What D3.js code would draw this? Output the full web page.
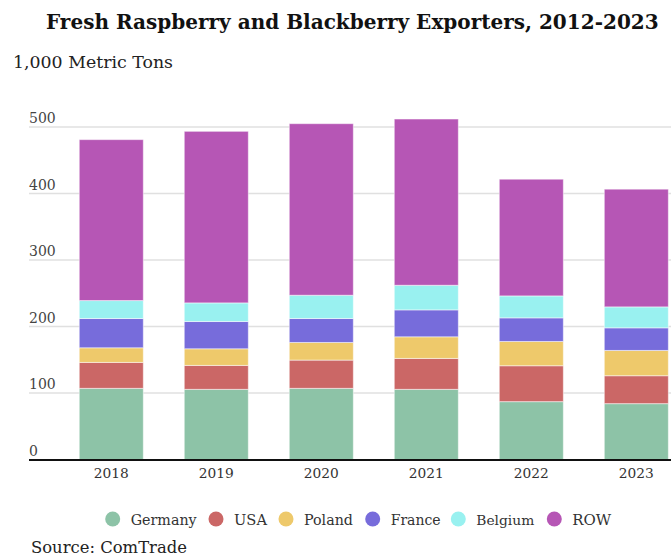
<!DOCTYPE html>
<html>
<head>
<meta charset="utf-8">
<script src="https://cdn.jsdelivr.net/npm/d3@7"></script>
<style>
  body { margin: 0; background: #fff; }
  text { font-family: "DejaVu Serif", "Liberation Serif", serif; }
</style>
</head>
<body>
<div id="chart"></div>
<script>
// values (1,000 metric tons)
var years = ["2018", "2019", "2020", "2021", "2022", "2023"];
var germany = [107, 105.5, 107, 105.5, 87, 84];
var usa = [39, 36, 42.5, 46.5, 54, 42];
var poland = [22, 25, 26.5, 32.5, 36.5, 38];
var france = [44, 41, 36, 40.5, 35.5, 34];
var belgium = [27, 28, 35, 37, 33, 31.5];
var row = [242, 258, 258, 250, 175.5, 177];

var seriesNames = ["Germany", "USA", "Poland", "France", "Belgium", "ROW"];
var seriesColors = ["#8dc3a7", "#cb6766", "#eec96b", "#776cdb", "#99f1f0", "#b656b5"];
var yTicks = [0, 100, 200, 300, 400, 500];

var width = 671, height = 556;

var svg = d3.select("#chart")
  .append("svg")
    .attr("width", width)
    .attr("height", height);

// build rows for the stack
var table = years.map(function(y, i) {
  return {year: y, Germany: germany[i], USA: usa[i], Poland: poland[i],
          France: france[i], Belgium: belgium[i], ROW: row[i]};
});
var stacked = d3.stack().keys(seriesNames)(table);

var x = d3.scaleBand()
  .domain(years)
  .range([38.3, 709.3])
  .paddingInner(0.39)
  .paddingOuter(0.39);

var y = d3.scaleLinear()
  .domain([0, 500])
  .range([459.5, 127]);

var color = d3.scaleOrdinal().domain(seriesNames).range(seriesColors);

// shrink or grow a label so it covers the width seen in the picture
function fit(sel, target) {
  sel.each(function() {
    var el = d3.select(this);
    var s = parseFloat(el.style("font-size"));
    var w = this.getComputedTextLength();
    el.style("font-size", (s * target / w).toFixed(2) + "px");
  });
}

// gridlines and tick labels
var grid = svg.append("g");
grid.selectAll("line")
  .data(yTicks.filter(function(d) { return d > 0; }))
  .enter()
  .append("line")
  .attr("x1", 29).attr("x2", width)
  .attr("y1", function(d) { return y(d); })
  .attr("y2", function(d) { return y(d); })
  .style("stroke", "#e0e0e0")
  .style("stroke-width", 1.5);

grid.selectAll("text")
  .data(yTicks)
  .enter()
  .append("text")
  .attr("x", 29)
  .attr("y", function(d) { return y(d) - 4; })
  .style("font-size", "14px")
  .style("fill", "#444")
  .text(function(d) { return d; });

// stacked bars
svg.append("g")
  .selectAll("g")
  .data(stacked)
  .enter()
  .append("g")
  .style("fill", function(d) { return color(d.key); })
  .selectAll("rect")
  .data(function(d) { return d; })
  .enter()
  .append("rect")
  .attr("x", function(d) { return x(d.data.year); })
  .attr("width", x.bandwidth())
  .attr("y", function(d) { return y(d[1]); })
  .attr("height", function(d) { return y(d[0]) - y(d[1]); })
  .style("stroke", "#fff")
  .style("stroke-opacity", 0.5)
  .style("stroke-width", 1);

// baseline
svg.append("line")
  .attr("x1", 29).attr("x2", width)
  .attr("y1", y(0) + 0.5).attr("y2", y(0) + 0.5)
  .style("stroke", "#111")
  .style("stroke-width", 2);

// year labels
svg.append("g")
  .selectAll("text")
  .data(years)
  .enter()
  .append("text")
  .attr("x", function(d) { return x(d) + x.bandwidth() / 2; })
  .attr("y", 478)
  .attr("text-anchor", "middle")
  .style("font-size", "14px")
  .style("fill", "#333")
  .text(function(d) { return d; })
  .call(fit, 35);

// title and notes
svg.append("text")
  .attr("x", 46).attr("y", 29)
  .style("font-size", "20px")
  .style("font-weight", "bold")
  .style("fill", "#111")
  .text("Fresh Raspberry and Blackberry Exporters, 2012-2023")
  .call(fit, 613);

svg.append("text")
  .attr("x", 13).attr("y", 68)
  .style("font-size", "16px")
  .style("fill", "#222")
  .text("1,000 Metric Tons")
  .call(fit, 160);

svg.append("text")
  .attr("x", 31).attr("y", 553)
  .style("font-size", "16px")
  .style("fill", "#222")
  .text("Source: ComTrade")
  .call(fit, 156);

// legend
var legendX = [112.7, 216, 286, 372.7, 458.3, 554.3];
var legendW = [66, 33, 49, 50, 58, 39];
var legend = svg.append("g")
  .selectAll("g")
  .data(seriesNames)
  .enter()
  .append("g")
  .attr("transform", function(d, i) { return "translate(" + legendX[i] + ",519)"; });

legend.append("circle")
  .attr("r", 7.5)
  .style("fill", function(d) { return color(d); });

legend.append("text")
  .attr("x", 18)
  .attr("y", 5.5)
  .style("font-size", "15px")
  .style("fill", "#333")
  .text(function(d) { return d; })
  .each(function(d, i) { d3.select(this).call(fit, legendW[i]); });
</script>
</body>
</html>
